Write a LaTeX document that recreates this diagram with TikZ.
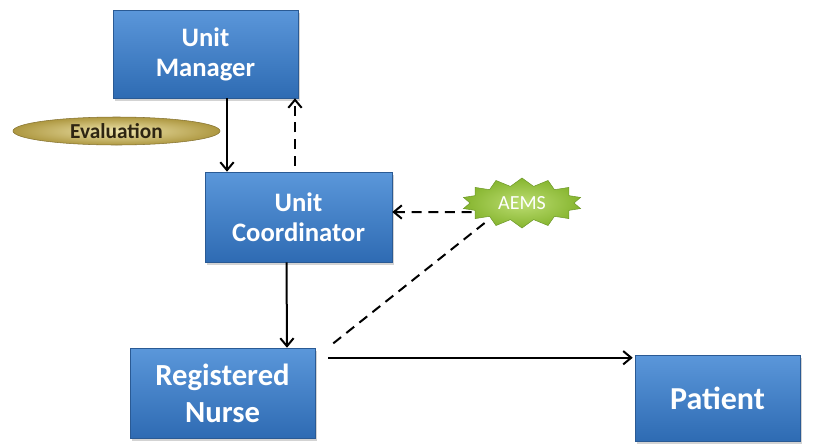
\documentclass[tikz,border=0pt]{standalone}
\usepackage{fontspec}
\setmainfont{Carlito}
\usepackage{xcolor}
\usetikzlibrary{arrows.meta,calc,shapes.geometric,shapes.symbols,shadows}

\definecolor{boxtop}{HTML}{5B97DA}
\definecolor{boxbot}{HTML}{2E6BB3}
\definecolor{boxedge}{HTML}{2A5A94}
\definecolor{evalin}{HTML}{EEE4AC}
\definecolor{evalout}{HTML}{AE9841}
\definecolor{evaledge}{HTML}{857230}
\definecolor{evaltext}{HTML}{2E2512}
\definecolor{aemsin}{HTML}{BCDD72}
\definecolor{aemsout}{HTML}{86B52F}
\definecolor{aemsedge}{HTML}{6F9A2A}

\begin{document}
\begin{tikzpicture}[x=0.75pt,y=-0.75pt,
		box/.style={draw=boxedge,top color=boxtop,bottom color=boxbot,text=white,align=center,
			drop shadow={shadow xshift=1.5pt,shadow yshift=-2pt,opacity=0.35}},
		arr/.style={line width=1.5pt,-{Straight Barb[length=6pt,width=10pt,line width=1.5pt]}},
		dsh/.style={line width=1.5pt,dash pattern=on 7.5pt off 5pt}]
	\useasboundingbox (0,0) rectangle (813,443);
	
	\node[box,minimum width=138.75pt,minimum height=66pt,font=\fontsize{20}{22.5}\selectfont\bfseries] (um) at (205.5,54) {Unit\\Manager};%manager
	\node[box,minimum width=140.25pt,minimum height=67.5pt,font=\fontsize{20}{22.5}\selectfont\bfseries] (uc) at (298.5,217) {Unit\\Coordinator};%coordinator
	\node[box,minimum width=138.75pt,minimum height=67.5pt,font=\fontsize{23}{27.75}\selectfont\bfseries] (rn) at (222.5,393) {Registered\\Nurse};%nurse
	\node[box,minimum width=123.75pt,minimum height=64.5pt,font=\fontsize{24}{26}\selectfont\bfseries] (pt) at (717.5,398) {Patient};%patient
	\node[ellipse,draw=evaledge,inner color=evalin,outer color=evalout,minimum width=155.25pt,minimum height=21pt,inner sep=0pt,
		text=evaltext,font=\fontsize{16}{18}\selectfont\bfseries] (ev) at (116.5,131) {Evaluation};
	\node[starburst,starburst points=14,starburst point height=6pt,random starburst=0,draw=aemsedge,inner color=aemsin,outer color=aemsout,
		minimum width=90pt,minimum height=37.5pt,inner sep=0pt,text=white,font=\fontsize{15}{17}\selectfont] (ae) at (522,203) {AEMS};
	
	\draw[arr] ($(um.south)+(21.5,0)$) -- ($(uc.north)+(-71.5,0)$);
	\draw[arr,dsh] ($(uc.north)+(-3.5,-6)$) -- ($(um.south)+(89.5,0)$);
	\draw[arr] ($(uc.south)+(-12,0)$) -- ($(rn.north)+(64.5,0)$);
	\draw[arr,dsh] ($(ae.west)+(2,9)$) -- ($(uc.east)+(0,-5)$);
	\draw[dsh] ($(ae.west)+(15,20)$) -- ($(rn.north east)+(15,-2)$);
	\draw[arr] ($(rn.north east)+(13,10)$) -- ($(pt.north west)+(-2,3)$);
\end{tikzpicture}
\end{document}
